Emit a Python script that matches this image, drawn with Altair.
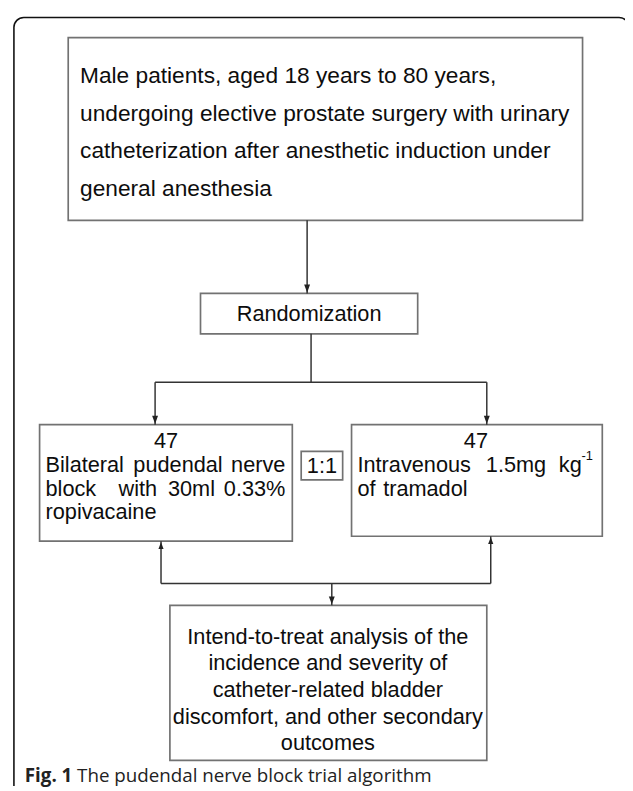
import altair as alt
import pandas as pd

# ---------------- text content ----------------
top_lines = [
    "Male patients, aged 18 years to 80 years,",
    "undergoing elective prostate surgery with urinary",
    "catheterization after anesthetic induction under",
    "general anesthesia",
]
random_label = "Randomization"
group_sizes = ["47", "47"]
ratio_label = "1:1"
left_arm_words = [["Bilateral", "pudendal", "nerve"],
                  ["block", "with", "30ml", "0.33%"],
                  ["ropivacaine"]]
right_arm_words = [["Intravenous", "1.5mg", "kg"],
                   ["of", "tramadol"]]
right_arm_sup = "-1"
outcome_lines = [
    "Intend-to-treat analysis of the",
    "incidence and severity of",
    "catheter-related bladder",
    "discomfort, and other secondary",
    "outcomes",
]
caption_bold = "Fig. 1"
caption_text = "The pudendal nerve block trial algorithm"

# ---------------- layout (page pixel coordinates) ----------------
box_names = ["top", "rand", "left", "ratio", "right", "bottom"]
box_x = [69, 203, 40, 305, 356, 172]
box_x2 = [590, 423, 296, 347, 610, 493]
box_y = [33, 292, 425, 452, 425, 608]
box_y2 = [218, 333, 543, 481, 538, 765]

seg_x = [311, 315, 157, 157, 493, 163, 497, 163, 336]
seg_y = [218, 333, 382, 382, 382, 543, 538, 586, 586]
seg_x2 = [311, 315, 493, 157, 493, 163, 497, 497, 336]
seg_y2 = [292, 382, 382, 425, 425, 586, 586, 586, 608]

tip_down_x = [311, 157, 493, 336]
tip_down_y = [292, 425, 425, 608]
tip_up_x = [163, 497]
tip_up_y = [543, 538]

top_text_x = 81
top_text_y = [72, 110, 148, 186]
outcome_x = 332
outcome_y = [640, 667, 694, 721, 748]
left_word_x = [[46, 135, 289], [46, 120, 170, 289], [46]]
left_word_align = [["left", "left", "right"], ["left", "left", "left", "right"], ["left"]]
left_line_y = [466, 490, 514]
right_word_x = [[362, 492, 566], [362, 388]]
right_line_y = [466, 490]
sup_x, sup_y = 589, 457
n_y = 442

W, H = 625, 783
XS = alt.Scale(domain=[8, 8 + W], nice=False, zero=False)
YS = alt.Scale(domain=[8, 8 + H], nice=False, zero=False, reverse=True)


def X(f="x"):
    return alt.X(f"{f}:Q", scale=XS, axis=None)


def Y(f="y"):
    return alt.Y(f"{f}:Q", scale=YS, axis=None)


FONT = "Liberation Sans"
INK = "#0d0d0d"

# outer rounded frame (runs off the right and bottom edges)
frame = alt.Chart(pd.DataFrame({"x": [14], "x2": [637], "y": [12.5], "y2": [830]})).mark_rect(
    fillOpacity=0, stroke="#111111", strokeWidth=1.6, cornerRadius=10, clip=True
).encode(x=X(), x2="x2", y=Y(), y2="y2")

boxes = alt.Chart(pd.DataFrame({"name": box_names, "x": box_x, "x2": box_x2,
                                "y": box_y, "y2": box_y2})).mark_rect(
    fillOpacity=0, stroke="#727272", strokeWidth=1.7
).encode(x=X(), x2="x2", y=Y(), y2="y2")

segs = alt.Chart(pd.DataFrame({"x": seg_x, "y": seg_y, "x2": seg_x2, "y2": seg_y2})).mark_rule(
    stroke="#333333", strokeWidth=1.5
).encode(x=X(), x2="x2", y=Y(), y2="y2")

down = alt.Chart(pd.DataFrame({"x": tip_down_x, "y": tip_down_y})).mark_point(
    shape="M-0.75,-1L0.75,-1L0,1Z", size=64, filled=True, fill="#222222", opacity=1,
    strokeWidth=0, yOffset=-5
).encode(x=X(), y=Y())
up = alt.Chart(pd.DataFrame({"x": tip_up_x, "y": tip_up_y})).mark_point(
    shape="M-0.75,1L0.75,1L0,-1Z", size=49, filled=True, fill="#222222", opacity=1,
    strokeWidth=0, yOffset=4.5
).encode(x=X(), y=Y())

# text tables
left_rows, center_rows, right_rows = [], [], []
for t, yy in zip(top_lines, top_text_y):
    left_rows.append({"t": t, "x": top_text_x, "y": yy, "s": 23})
center_rows.append({"t": random_label, "x": 313, "y": 313, "s": 22})
center_rows.append({"t": group_sizes[0], "x": 168, "y": n_y, "s": 22})
center_rows.append({"t": group_sizes[1], "x": 482, "y": n_y, "s": 22})
center_rows.append({"t": ratio_label, "x": 326, "y": 467, "s": 22})
for words, xs, als, yy in zip(left_arm_words, left_word_x, left_word_align, left_line_y):
    for w, xx, al in zip(words, xs, als):
        (left_rows if al == "left" else right_rows).append({"t": w, "x": xx, "y": yy, "s": 22})
for words, xs, yy in zip(right_arm_words, right_word_x, right_line_y):
    for w, xx in zip(words, xs):
        left_rows.append({"t": w, "x": xx, "y": yy, "s": 22})
left_rows.append({"t": right_arm_sup, "x": sup_x, "y": sup_y, "s": 13})
for t, yy in zip(outcome_lines, outcome_y):
    center_rows.append({"t": t, "x": outcome_x, "y": yy, "s": 22})


def text_layer(rows, align):
    return alt.Chart(pd.DataFrame(rows)).mark_text(
        align=align, baseline="middle", font=FONT, color=INK
    ).encode(x=X(), y=Y(), text="t:N", size=alt.Size("s:Q", scale=None, legend=None))


t_left = text_layer(left_rows, "left")
t_center = text_layer(center_rows, "center")
t_right = text_layer(right_rows, "right")

cap_b = alt.Chart(pd.DataFrame({"t": [caption_bold], "x": [25], "y": [781]})).mark_text(
    align="left", baseline="middle", font="Open Sans", fontWeight="bold", fontSize=19, color="#222222"
).encode(x=X(), y=Y(), text="t:N")
cap_t = alt.Chart(pd.DataFrame({"t": [caption_text], "x": [78], "y": [781]})).mark_text(
    align="left", baseline="middle", font="Open Sans", fontSize=19, color="#222222"
).encode(x=X(), y=Y(), text="t:N")

chart = alt.layer(frame, boxes, segs, down, up, t_left, t_center, t_right, cap_b, cap_t).properties(
    width=W, height=H, padding=0, autosize=alt.AutoSizeParams(type="none")
).configure_view(strokeWidth=0)

chart.save("out.html", embed_options={"renderer": "svg", "actions": False})
